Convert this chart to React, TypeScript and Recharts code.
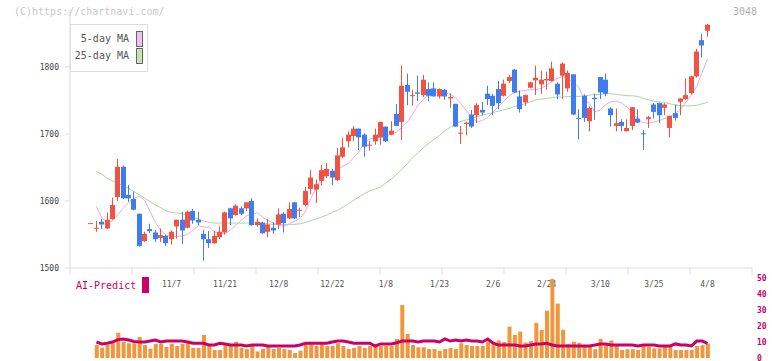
import { ComposedChart, Bar, Line, XAxis, YAxis } from "recharts";

// candle index 0..115
const opens = [
  1567, 1559, 1569, 1559, 1573, 1606, 1651, 1609, 1603, 1581,
  1540, 1558, 1553, 1545, 1548, 1543, 1562, 1572, 1560, 1585,
  1572, 1551, 1543, 1537, 1546, 1553, 1589, 1579, 1589, 1589,
  1600, 1564, 1568, 1554, 1560, 1565, 1581, 1574, 1598, 1586,
  1594, 1618, 1617, 1630, 1637, 1645, 1631, 1666, 1689, 1697,
  1708, 1699, 1683, 1689, 1695, 1711, 1699, 1730, 1718, 1773,
  1757, 1762, 1758, 1767, 1768, 1756, 1766, 1753, 1745, 1701,
  1715, 1729, 1728, 1736, 1760, 1757, 1767, 1757, 1779, 1796,
  1756, 1747, 1769, 1780, 1774, 1780, 1779, 1775, 1787, 1768,
  1789, 1724, 1757, 1719, 1754, 1785, 1781, 1738, 1712, 1718,
  1704, 1712, 1723, 1701, 1722, 1744, 1746, 1739, 1709, 1731,
  1748, 1752, 1761, 1786, 1840, 1854,
];
const highs = [
  1567, 1570, 1573, 1583, 1605, 1663, 1653, 1624, 1614, 1581,
  1554, 1566, 1557, 1559, 1549, 1556, 1572, 1584, 1586, 1588,
  1584, 1557, 1555, 1555, 1562, 1584, 1590, 1595, 1592, 1598,
  1604, 1574, 1569, 1573, 1568, 1589, 1583, 1598, 1598, 1590,
  1621, 1646, 1632, 1654, 1657, 1648, 1679, 1694, 1704, 1712,
  1708, 1701, 1690, 1708, 1718, 1711, 1719, 1745, 1802, 1790,
  1766, 1787, 1788, 1777, 1777, 1768, 1767, 1761, 1745, 1712,
  1718, 1736, 1746, 1748, 1772, 1760, 1779, 1781, 1788, 1797,
  1765, 1759, 1778, 1802, 1794, 1793, 1808, 1777, 1807, 1795,
  1789, 1737, 1759, 1741, 1760, 1785, 1790, 1740, 1738, 1722,
  1722, 1740, 1737, 1706, 1727, 1746, 1747, 1746, 1727, 1744,
  1753, 1783, 1787, 1827, 1849, 1864,
];
const lows = [
  1567, 1554, 1558, 1558, 1572, 1600, 1603, 1599, 1586, 1532,
  1539, 1552, 1539, 1539, 1533, 1535, 1544, 1536, 1559, 1566,
  1564, 1511, 1530, 1536, 1543, 1550, 1564, 1578, 1579, 1585,
  1563, 1562, 1551, 1546, 1551, 1558, 1553, 1573, 1573, 1576,
  1592, 1610, 1597, 1623, 1634, 1624, 1630, 1664, 1680, 1689,
  1676, 1666, 1675, 1684, 1684, 1688, 1698, 1712, 1691, 1743,
  1742, 1749, 1755, 1749, 1756, 1753, 1751, 1739, 1711, 1685,
  1698, 1709, 1716, 1728, 1743, 1728, 1737, 1756, 1776, 1761,
  1732, 1742, 1768, 1758, 1760, 1766, 1778, 1752, 1752, 1763,
  1728, 1692, 1718, 1704, 1721, 1752, 1756, 1711, 1704, 1704,
  1704, 1706, 1716, 1676, 1709, 1723, 1716, 1728, 1695, 1720,
  1728, 1751, 1759, 1784, 1814, 1845,
];
const closes = [
  1567, 1560, 1565, 1572, 1594, 1651, 1604, 1604, 1587, 1533,
  1551, 1555, 1543, 1549, 1537, 1554, 1572, 1556, 1584, 1571,
  1568, 1543, 1537, 1548, 1554, 1583, 1574, 1593, 1581, 1598,
  1564, 1569, 1552, 1565, 1556, 1580, 1567, 1588, 1574, 1587,
  1615, 1635, 1625, 1646, 1648, 1635, 1668, 1680, 1699, 1708,
  1695, 1681, 1684, 1699, 1718, 1689, 1705, 1712, 1772, 1763,
  1758, 1760, 1781, 1757, 1756, 1767, 1756, 1755, 1711, 1702,
  1717, 1711, 1743, 1732, 1752, 1742, 1746, 1775, 1785, 1762,
  1737, 1758, 1777, 1784, 1781, 1782, 1798, 1759, 1805, 1791,
  1729, 1723, 1724, 1739, 1752, 1762, 1760, 1728, 1716, 1712,
  1709, 1740, 1717, 1700, 1725, 1733, 1728, 1744, 1727, 1724,
  1753, 1758, 1786, 1823, 1832, 1863,
];
const ma5 = [
  null, 1592, 1574, 1569, 1570, 1580, 1589, 1598, 1604, 1607,
  1601, 1584, 1568, 1556, 1549, 1547, 1547, 1548, 1550, 1557,
  1563, 1561, 1561, 1554, 1552, 1551, 1557, 1564, 1571, 1578,
  1581, 1582, 1576, 1571, 1567, 1564, 1562, 1566, 1570, 1574,
  1585, 1604, 1620, 1633, 1639, 1642, 1648, 1652, 1656, 1665,
  1674, 1688, 1692, 1695, 1695, 1697, 1700, 1703, 1710, 1718,
  1730, 1743, 1752, 1758, 1762, 1762, 1762, 1759, 1754, 1745,
  1735, 1725, 1718, 1720, 1725, 1733, 1741, 1749, 1757, 1762,
  1764, 1765, 1766, 1766, 1768, 1773, 1778, 1783, 1786, 1782,
  1776, 1770, 1752, 1745, 1733, 1736, 1744, 1748, 1749, 1746,
  1740, 1731, 1722, 1717, 1716, 1718, 1720, 1723, 1726, 1731,
  1737, 1748, 1758, 1771, 1792, 1812,
];
const ma25 = [
  null, 1644, 1640, 1634, 1630, 1627, 1622, 1619, 1614, 1609,
  1604, 1599, 1594, 1590, 1585, 1583, 1582, 1581, 1578, 1576,
  1573, 1570, 1568, 1567, 1567, 1567, 1567, 1567, 1567, 1567,
  1567, 1567, 1566, 1566, 1565, 1565, 1565, 1565, 1565, 1566,
  1568, 1571, 1573, 1576, 1579, 1583, 1586, 1591, 1596, 1601,
  1606, 1611, 1615, 1618, 1621, 1627, 1633, 1640, 1648, 1656,
  1665, 1672, 1680, 1686, 1692, 1698, 1705, 1710, 1715, 1719,
  1721, 1723, 1726, 1728, 1730, 1732, 1734, 1736, 1738, 1741,
  1743, 1745, 1748, 1751, 1752, 1753, 1754, 1755, 1755, 1756,
  1756, 1756, 1757, 1758, 1759, 1759, 1760, 1760, 1759, 1758,
  1757, 1757, 1756, 1753, 1751, 1749, 1748, 1747, 1745, 1743,
  1742, 1742, 1742, 1743, 1745, 1747,
];
const volumes = [
  null, 8.1, 6.5, 8.1, 9.2, 15.8, 10.2, 9.2, 9.2, 13.1,
  8.1, 5.8, 8.8, 8.8, 6.9, 8.8, 7.5, 8.8, 9.2, 6.3,
  6.3, 14.4, 7.5, 5.0, 5.0, 8.1, 8.1, 10.2, 6.3, 5.6,
  7.5, 4.0, 5.6, 7.5, 5.6, 6.3, 5.6, 5.0, 3.1, 4.6,
  9.2, 9.2, 7.5, 9.2, 7.5, 7.5, 9.2, 7.5, 5.6, 6.3,
  7.5, 6.3, 7.5, 7.5, 7.5, 7.5, 7.5, 11.9, 33.1, 15.0,
  8.1, 6.7, 6.7, 5.6, 5.6, 4.6, 5.6, 6.3, 5.6, 9.2,
  8.1, 7.5, 7.5, 7.5, 10.2, 8.5, 11, 10, 19.6, 14.4,
  16.5, 9.7, 10.6, 22, 17.5, 29.6, 49.4, 34, 17.7, 8.8,
  10.2, 9.5, 8, 7.5, 5.5, 12, 8, 11, 8, 5,
  5.5, 5.5, 5, 8, 7, 6, 6, 7, 7.5, 5,
  5, 5, 5, 7.5, 8, 9,
];
const predict = [
  null, 10, 8.8, 9.2, 10, 11.5, 11.9, 11.2, 10.3, 10,
  10, 10.6, 11.2, 10, 10.6, 10.6, 10.6, 10.6, 10, 9.2,
  9.2, 9.2, 8.1, 8.1, 9.2, 8.8, 8.1, 8.1, 8.1, 7.5,
  8.1, 8.1, 8.1, 7.5, 7.5, 7.5, 7.5, 7.5, 7.5, 8.1,
  9.2, 9.2, 9.2, 9.2, 9.2, 10, 10.6, 10.6, 10, 9.2,
  9.2, 9.2, 9.2, 7.5, 8.8, 8.8, 8.8, 9.5, 10.6, 10.6,
  10.6, 10, 10.6, 10.6, 10.6, 10, 11.9, 10.6, 11.2, 10.6,
  11.2, 10.6, 10.6, 10, 11.9, 9.2, 8.1, 8.1, 8.1, 8.1,
  7.5, 7.5, 8.1, 8.8, 8.8, 9.2, 8.1, 7.5, 7.5, 7.5,
  7.5, 7.5, 7.5, 7.5, 8.1, 8.8, 8.8, 8.1, 8.1, 8.1,
  8.1, 8.1, 7.5, 8.1, 8.1, 8.1, 7.5, 7.5, 7.5, 8.8,
  8.1, 8.1, 7.5, 10.6, 10.6, 9.2,
];
const labelIdx = [15, 25, 35, 45, 55, 65, 75, 85, 95, 105, 115];
const labelText = ["11/7", "11/21", "12/8", "12/22", "1/8", "1/23", "2/6", "2/24", "3/10", "3/25", "4/8"];
const priceTicks = [1500, 1600, 1700, 1800];
const volTicks = [0, 10, 20, 30, 40, 50];

const MONO = "'DejaVu Sans Mono', 'Liberation Mono', monospace";
const UP = "#f15340";
const DOWN = "#3f7cf0";
const X_MIN = -3.94;
const X_MAX = 123.3;
const gridTicks = Array.from({ length: 12 }, (_, k) => X_MIN + (k * (X_MAX - X_MIN)) / 11);

const rows = opens.map((open, i) => ({
  i,
  open,
  close: closes[i],
  high: highs[i],
  low: lows[i],
  range: [lows[i], highs[i]],
  ma5: ma5[i],
  ma25: ma25[i],
  vol: volumes[i],
  pred: predict[i],
}));

const Candle = (props: any) => {
  const { x, y, width, height, payload } = props;
  if (!payload || x == null || y == null) return null;
  const { open, close, high, low } = payload;
  const color = close >= open ? UP : DOWN;
  const span = high - low;
  const toY = (v: number) => (span === 0 ? y : y + ((high - v) / span) * height);
  const top = toY(Math.max(open, close));
  const bot = toY(Math.min(open, close));
  const cx = Math.floor(x + width / 2) + 0.5;
  return (
    <g>
      <line x1={cx} x2={cx} y1={y} y2={y + height} stroke={color} strokeWidth={1} />
      <rect x={Math.round(x)} y={top} width={width} height={Math.max(bot - top, 1)} fill={color} />
    </g>
  );
};

// right-hand volume labels, baseline nudged so "0" stays inside the page
const VolTick = (props: any) => {
  const { x, y, payload } = props;
  return (
    <text x={x} y={y} dy={2.5} textAnchor="start" fontSize={8} fontWeight="bold" fontFamily={MONO} fill="#cc0066">
      {payload.value}
    </text>
  );
};

const layer = { position: "absolute" as const, left: 0, top: 0 };

export default function App() {
  const labelOf = (v: number) => {
    const k = labelIdx.indexOf(Math.round(v));
    return k >= 0 ? labelText[k] : "";
  };

  return (
    <div style={{ position: "absolute", left: 0, top: 0, width: 772, height: 361, background: "#fff", fontFamily: MONO }}>
      <div style={layer}>
        <ComposedChart width={772} height={300} data={rows} margin={{ top: 10, right: 20, bottom: 0, left: 0 }}>
          <XAxis
            xAxisId="g"
            dataKey="i"
            type="number"
            domain={[X_MIN, X_MAX]}
            ticks={gridTicks}
            interval={0}
            tickFormatter={() => ""}
            stroke="#dddddd"
            tickSize={7}
            height={12}
            allowDataOverflow
          />
          <XAxis
            xAxisId="l"
            dataKey="i"
            type="number"
            domain={[X_MIN, X_MAX]}
            ticks={labelIdx}
            interval={0}
            tickFormatter={labelOf}
            axisLine={false}
            tickLine={false}
            tickSize={0}
            tickMargin={1}
            height={20}
            tick={{ fontSize: 8, fill: "#555", fontFamily: MONO }}
            allowDataOverflow
          />
          <YAxis
            domain={[1500, 1885]}
            ticks={priceTicks}
            interval={0}
            width={70}
            stroke="#dddddd"
            tickSize={5}
            tickMargin={6}
            tick={{ fontSize: 8, fill: "#444", fontFamily: MONO }}
            allowDataOverflow
          />
          <Line xAxisId="g" dataKey="ma25" stroke="#aad8a0" strokeWidth={1} dot={false} isAnimationActive={false} zIndex={250} />
          <Line xAxisId="g" dataKey="ma5" stroke="#eaaaea" strokeWidth={1} dot={false} isAnimationActive={false} zIndex={250} />
          <Bar xAxisId="g" dataKey="range" barSize={5} shape={<Candle />} isAnimationActive={false} />
        </ComposedChart>
      </div>

      <div style={layer}>
        <ComposedChart width={772} height={361} data={rows} margin={{ top: 278, right: 0, bottom: 3, left: 70 }}>
          <XAxis dataKey="i" type="number" domain={[X_MIN, X_MAX]} hide allowDataOverflow />
          <YAxis
            orientation="right"
            domain={[0, 50]}
            ticks={volTicks}
            interval={0}
            width={20}
            axisLine={false}
            tickLine={false}
            tickSize={0}
            tickMargin={5}
            tick={<VolTick />}
          />
          <Bar dataKey="vol" barSize={4} fill="#f0963c" isAnimationActive={false} />
          <Line dataKey="pred" stroke="#cc0066" strokeWidth={3} dot={false} isAnimationActive={false} />
        </ComposedChart>
      </div>

      <div style={{ position: "absolute", left: 14, top: 6, fontSize: 10, color: "#c8c8c8", whiteSpace: "nowrap" }}>
        (C)https://chartnavi.com/
      </div>
      <div style={{ position: "absolute", left: 733, top: 6, fontSize: 10, color: "#b0b0b0" }}>3048</div>

      <div
        style={{
          position: "absolute",
          left: 70,
          top: 24,
          width: 76,
          height: 46,
          border: "1px solid #dddddd",
          background: "#fff",
          fontSize: 10,
          color: "#555",
        }}
      >
        <div style={{ position: "absolute", right: 18, top: 7, lineHeight: "14px" }}>5-day MA</div>
        <div style={{ position: "absolute", left: 65, top: 6, width: 5, height: 14, background: "#f2c0f0", border: "1px solid #666" }} />
        <div style={{ position: "absolute", right: 18, top: 24, lineHeight: "14px" }}>25-day MA</div>
        <div style={{ position: "absolute", left: 65, top: 23, width: 5, height: 14, background: "#c4e4b4", border: "1px solid #666" }} />
      </div>

      <div style={{ position: "absolute", left: 76, top: 279, fontSize: 10, color: "#cc0066", lineHeight: "14px" }}>AI-Predict</div>
      <div style={{ position: "absolute", left: 142, top: 277, width: 7, height: 16, background: "#cc0066" }} />
    </div>
  );
}
